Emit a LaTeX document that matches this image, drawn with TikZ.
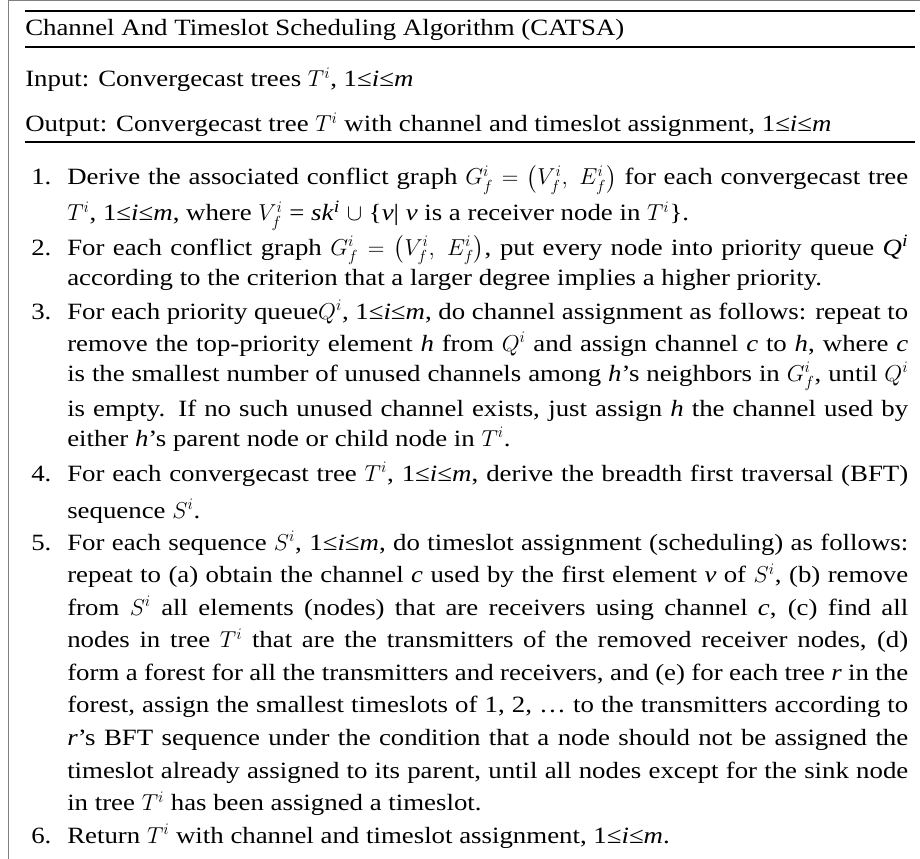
\documentclass[tikz,border=0pt]{standalone}
\usepackage{amsmath}
\usepackage{fontspec}
\setmainfont{Liberation Serif}[FakeStretch=1.15]
\usepackage{tikz}
\DeclareMathSizes{17.5}{17.5}{13}{10}

\newcommand{\jline}[1]{\makebox[630.75pt][s]{#1}}
\newcommand{\irange}{1≤\textit{i}≤\textit{m}}

\begin{document}
\begin{tikzpicture}[x=0.75pt,y=0.75pt,yscale=-1,xscale=1,
  txtline/.style={anchor=base west,inner sep=0pt,font=\fontsize{17.5}{21}\selectfont},
  rulebar/.style={line width=1.5}]
\useasboundingbox (0,0) rectangle (920,859);
%Straight Lines (frame)
\draw [color={rgb, 255:red, 128; green, 128; blue, 128 }  ,draw opacity=1 ][line width=1.1]  (8.5,859) -- (8.5,0.6) -- (920,0.6) ;
%Straight Lines
\draw [rulebar]  (25,11.5) -- (915,11.5) ;
%Straight Lines
\draw [rulebar]  (25,47) -- (915,47) ;
%Straight Lines
\draw [rulebar]  (25,142) -- (915,142) ;

% Text Node
\draw (25,36) node [txtline] (title) {Channel And Timeslot Scheduling Algorithm (CATSA)};
% Text Node
\draw (25,87) node [txtline] (input) {Input: Convergecast trees $T^i$, \irange};
% Text Node
\draw (25,132) node [txtline] (output) {Output: Convergecast tree $T^i$ with channel and timeslot assignment, \irange};

% Text Node
\draw (31,185) node [txtline] (n1) {1.};
\draw (67,185) node [txtline] (s1a) {\jline{Derive the associated conflict graph $G_f^i=\big(V_f^i,\ E_f^i\big)$ for each convergecast tree}};
\draw (67,221) node [txtline] (s1b) {$T^i$, \irange, where $V_f^i$ = \textit{sk\/}\textsuperscript{\textit{i}} $\cup$ \{\textit{v\/}| \textit{v} is a receiver node in $T^i$\}.};
% Text Node
\draw (31,255) node [txtline] (n2) {2.};
\draw (67,255) node [txtline] (s2a) {\jline{For each conflict graph $G_f^i=\big(V_f^i,\ E_f^i\big)$, put every node into priority queue \textit{Q}\textsuperscript{\textit{i}}}};
\draw (67,285) node [txtline] (s2b) {according to the criterion that a larger degree implies a higher priority.};
% Text Node
\draw (31,319) node [txtline] (n3) {3.};
\draw (67,319) node [txtline] (s3a) {\jline{For each priority queue$Q^i$, \irange, do channel assignment as follows: repeat to}};
\draw (67,351) node [txtline] (s3b) {\jline{remove the top-priority element \textit{h} from $Q^i$ and assign channel \textit{c} to \textit{h}, where \textit{c}}};
\draw (67,381) node [txtline] (s3c) {\jline{is the smallest number of unused channels among \textit{h}’s neighbors in $G_f^i$, until $Q^i$}};
\draw (67,416) node [txtline] (s3d) {\jline{is empty. If no such unused channel exists, just assign \textit{h} the channel used by}};
\draw (67,446) node [txtline] (s3e) {either \textit{h}’s parent node or child node in $T^i$.};
% Text Node
\draw (31,481) node [txtline] (n4) {4.};
\draw (67,481) node [txtline] (s4a) {\jline{For each convergecast tree $T^i$, \irange, derive the breadth first traversal (BFT)}};
\draw (67,518) node [txtline] (s4b) {sequence $S^i$.};
% Text Node
\draw (31,550) node [txtline] (n5) {5.};
\draw (67,550) node [txtline] (s5a) {\jline{For each sequence $S^i$, \irange, do timeslot assignment (scheduling) as follows:}};
\draw (67,582.5) node [txtline] (s5b) {\jline{repeat to (a) obtain the channel \textit{c} used by the first element \textit{v} of $S^i$, (b) remove}};
\draw (67,615) node [txtline] (s5c) {\jline{from $S^i$ all elements (nodes) that are receivers using channel \textit{c}, (c) find all}};
\draw (67,647.5) node [txtline] (s5d) {\jline{nodes in tree $T^i$ that are the transmitters of the removed receiver nodes, (d)}};
\draw (67,680) node [txtline] (s5e) {\jline{form a forest for all the transmitters and receivers, and (e) for each tree \textit{r} in the}};
\draw (67,712.5) node [txtline] (s5f) {\jline{forest, assign the smallest timeslots of 1, 2, … to the transmitters according to}};
\draw (67,745) node [txtline] (s5g) {\jline{\textit{r}’s BFT sequence under the condition that a node should not be assigned the}};
\draw (67,778) node [txtline] (s5h) {\jline{timeslot already assigned to its parent, until all nodes except for the sink node}};
\draw (67,810.5) node [txtline] (s5i) {in tree $T^i$ has been assigned a timeslot.};
% Text Node
\draw (31,843) node [txtline] (n6) {6.};
\draw (67,843) node [txtline] (s6a) {Return $T^i$ with channel and timeslot assignment, \irange.};
\end{tikzpicture}
\end{document}
